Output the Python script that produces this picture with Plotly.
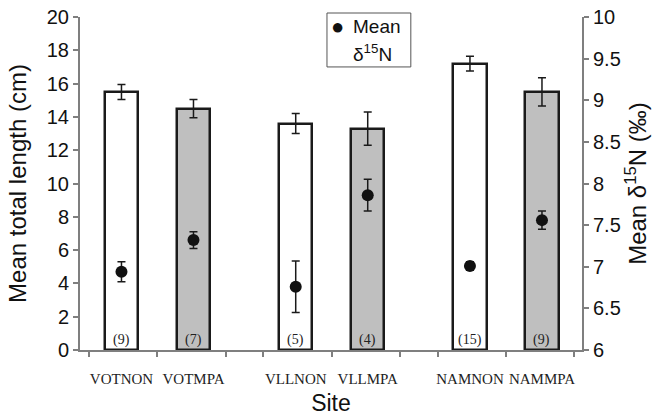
import plotly.graph_objects as go

# ---- data ----
sites = ["VOTNON", "VOTMPA", "VLLNON", "VLLMPA", "NAMNON", "NAMMPA"]
groups = [0, 0, 1, 1, 2, 2]          # site group (VOT, VLL, NAM)
within = [0, 1, 0, 1, 0, 1]          # NON / MPA within group
length_mean = [15.5, 14.5, 13.6, 13.3, 17.2, 15.5]
length_err = [0.45, 0.55, 0.6, 1.0, 0.45, 0.85]
d15n_mean = [6.94, 7.32, 6.76, 7.86, 7.01, 7.56]
d15n_err = [0.12, 0.1, 0.31, 0.19, 0.05, 0.11]
counts = ["(9)", "(7)", "(5)", "(4)", "(15)", "(9)"]
bar_colors = ["white", "#bfbfbf", "white", "#bfbfbf", "white", "#bfbfbf"]

# ---- layout helpers ----
PITCH = 2.42
xpos = [g * PITCH + (w - 0.5) for g, w in zip(groups, within)]
bounds = []
for g in sorted(set(groups)):
    c = g * PITCH
    bounds += [c - 0.95, c, c + 0.95]

AX = "#7f7f7f"
SANS = "Liberation Sans, Arial, sans-serif"
SERIF = "Liberation Serif, Times New Roman, serif"

fig = go.Figure()
fig.add_trace(go.Bar(
    x=xpos, y=length_mean, width=0.46,
    marker=dict(color=bar_colors, line=dict(color="#1a1a1a", width=2.5)),
    error_y=dict(type="data", array=length_err, color="#1a1a1a", thickness=1.5, width=4),
    showlegend=False, hoverinfo="skip",
))
fig.add_trace(go.Scatter(
    x=xpos, y=d15n_mean, yaxis="y2", mode="markers",
    marker=dict(color="#111111", size=12, symbol="circle"),
    error_y=dict(type="data", array=d15n_err, color="#1a1a1a", thickness=1.5, width=4),
    name="Mean δ15N", showlegend=False,
))

for x, c in zip(xpos, counts):
    fig.add_annotation(x=x, y=0, text=c, showarrow=False, yanchor="bottom", yshift=0,
                       font=dict(family=SERIF, size=14, color="#222"))

# manual legend box (paper coordinates)
fig.add_shape(type="rect", xref="paper", yref="paper", x0=0.492, x1=0.659, y0=0.850, y1=1.012,
              line=dict(color="#555", width=1), fillcolor="white", layer="above")
fig.add_annotation(xref="paper", yref="paper", x=0.513, y=0.970, text="●", showarrow=False,
                   xanchor="center", yanchor="middle",
                   font=dict(family=SANS, size=22, color="#111"))
fig.add_annotation(xref="paper", yref="paper", x=0.540, y=0.970, text="Mean", showarrow=False,
                   xanchor="left", yanchor="middle",
                   font=dict(family=SANS, size=19, color="#111"))
fig.add_annotation(xref="paper", yref="paper", x=0.582, y=0.893, text="δ<sup>15</sup>N",
                   showarrow=False, xanchor="center", yanchor="middle",
                   font=dict(family=SANS, size=19, color="#111"))

fig.update_layout(
    width=657, height=416,
    margin=dict(l=80, r=75, t=17, b=66),
    plot_bgcolor="white", paper_bgcolor="white",
    bargap=0,
    xaxis=dict(
        range=[-1.076, 5.896], tickmode="array", tickvals=xpos, ticktext=sites, tickangle=0,
        ticks="", showline=True, linecolor=AX, linewidth=2, showgrid=False, zeroline=False,
        tickfont=dict(family=SERIF, size=15, color="#222"), ticklabelstandoff=14,
        minor=dict(tickmode="array", tickvals=bounds, ticks="outside", ticklen=5,
                   tickcolor=AX, tickwidth=2, showgrid=False),
        automargin=False,
        title=dict(text="Site", font=dict(family=SANS, size=23, color="#111"), standoff=10),
    ),
    yaxis=dict(
        range=[0, 20], dtick=2, ticks="outside", ticklen=5, tickcolor=AX, tickwidth=2,
        showline=True, linecolor=AX, linewidth=2, showgrid=False, zeroline=False,
        tickfont=dict(family=SANS, size=20, color="#111"), automargin=False,
        ticklabeloverflow="allow",
        title=dict(text="Mean total length (cm)", font=dict(family=SANS, size=24, color="#111"), standoff=13),
    ),
    yaxis2=dict(
        range=[6, 10], dtick=0.5, overlaying="y", side="right", anchor="x",
        ticks="outside", ticklen=5, tickcolor=AX, tickwidth=2,
        showline=True, linecolor=AX, linewidth=2, showgrid=False, zeroline=False,
        tickfont=dict(family=SANS, size=20, color="#111"), automargin=False,
        ticklabeloverflow="allow",
        title=dict(text="Mean δ<sup>15</sup>N (‰)", font=dict(family=SANS, size=24, color="#111"), standoff=5),
    ),
    showlegend=False,
)

fig.write_html("out.html", config={"displayModeBar": False},
               post_script="document.body.style.margin='0px';")
